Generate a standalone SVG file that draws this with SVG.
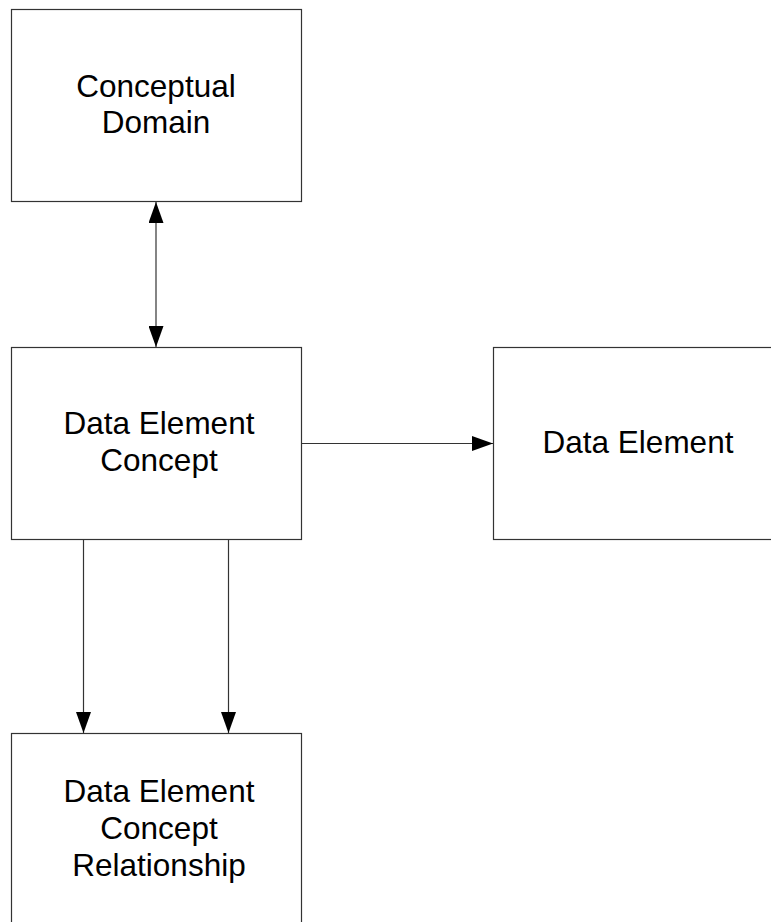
<svg xmlns="http://www.w3.org/2000/svg" width="771" height="922" viewBox="0 0 771 922">
<style>
.box{fill:#ffffff;stroke:#333333;stroke-width:1.2}
.lbl{font-family:"Liberation Sans",Arial,sans-serif;font-size:31.5px;fill:#000000;text-anchor:middle}
.conn{stroke:#333333;stroke-width:1.2;fill:none;marker-end:url(#arr)}
.both{marker-start:url(#arr)}
</style>
<defs>
<marker id="arr" markerUnits="userSpaceOnUse" markerWidth="22" markerHeight="15" refX="21" refY="7.5" orient="auto-start-reverse" viewBox="0 0 22 15">
<path d="M0,0 L21,7.5 L0,15 z" fill="#000000"/>
</marker>
</defs>
<rect x="0" y="0" width="771" height="922" fill="#ffffff"/>
<g id="conceptual-domain">
<rect class="box" x="11.5" y="9.5" width="290" height="192"/>
<text class="lbl" x="156" y="97">Conceptual</text>
<text class="lbl" x="156" y="133">Domain</text>
</g>
<g id="data-element-concept">
<rect class="box" x="11.5" y="347.5" width="290" height="192"/>
<text class="lbl" x="159" y="434">Data Element</text>
<text class="lbl" x="159" y="471">Concept</text>
</g>
<g id="data-element">
<rect class="box" x="493.5" y="347.5" width="290" height="192"/>
<text class="lbl" x="638" y="453">Data Element</text>
</g>
<g id="data-element-concept-relationship">
<rect class="box" x="11.5" y="733.5" width="290" height="193"/>
<text class="lbl" x="159" y="802">Data Element</text>
<text class="lbl" x="159" y="839">Concept</text>
<text class="lbl" x="159" y="876">Relationship</text>
</g>
<g id="connectors">
<line class="conn both" x1="156" y1="202" x2="156" y2="347"/>
<line class="conn" x1="302" y1="443.5" x2="493" y2="443.5"/>
<line class="conn" x1="83.5" y1="540" x2="83.5" y2="733"/>
<line class="conn" x1="228.5" y1="540" x2="228.5" y2="733"/>
</g>
</svg>
